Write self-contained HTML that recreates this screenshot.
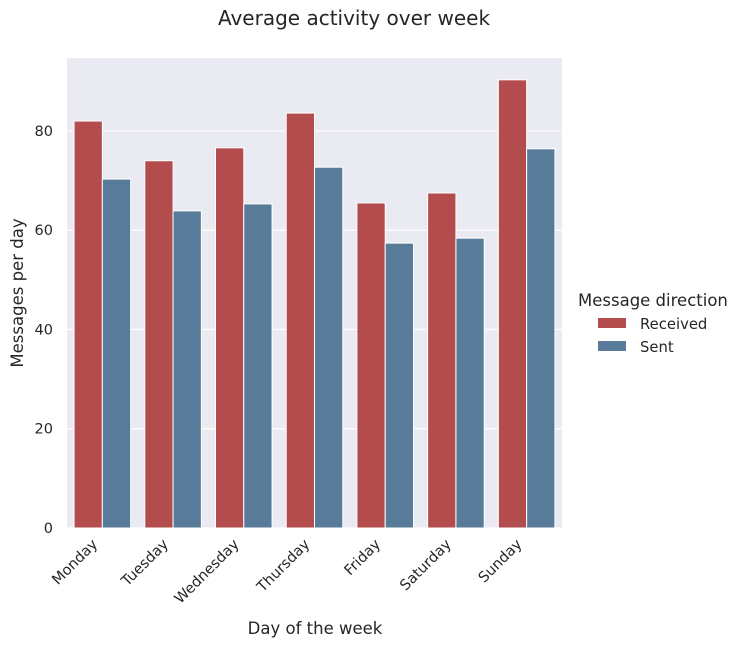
<!DOCTYPE html>
<html><head><meta charset="utf-8"><style>
body{margin:0;background:#fff;font-family:"DejaVu Sans","Liberation Sans",sans-serif;}
svg text{font-family:"DejaVu Sans","Liberation Sans",sans-serif;fill:#262626;}
</style></head><body>
<svg id="chart" width="741" height="648" xmlns="http://www.w3.org/2000/svg"></svg>
<script>
const categories=["Monday","Tuesday","Wednesday","Thursday","Friday","Saturday","Sunday"];
const received=[82.0,74.0,76.6,83.6,65.5,67.5,90.3];
const sent=[70.3,63.9,65.3,72.7,57.4,58.4,76.4];
const yTicks=[0,20,40,60,80];
const seriesNames=["Received","Sent"];
const colors=["#b34c4d","#587b99"];

const svg=document.getElementById('chart');
const NS="http://www.w3.org/2000/svg";
const L=67,R=562,T=58,B=528,yMax=94.7;
const y=v=>B-(v/yMax)*(B-T);
const gw=(R-L)/categories.length;
const x=i=>L+gw*i;
function el(tag,attrs,parent){const e=document.createElementNS(NS,tag);for(const k in attrs)e.setAttribute(k,attrs[k]);(parent||svg).appendChild(e);return e;}

const bg=el('rect',{x:L,y:T,width:R-L,height:B-T,fill:"#eaeaf2"});



yTicks.forEach(t=>{
  const g=el('line',{x1:L,x2:R,y1:y(t),y2:y(t),stroke:"#fff","stroke-width":1.2});
  
  
  const tx=el('text',{x:L-14,y:y(t)+5,"text-anchor":"end","font-size":14.5});
  tx.textContent=t;
  
  
});

const bw=gw*0.8/2;
[received,sent].forEach((series,si)=>{
  series.forEach((v,i)=>{
    const bx=x(i)+gw*0.1+si*bw;
    const r=el('rect',{x:bx,y:y(v),width:bw,height:B-y(v),fill:colors[si],stroke:"#fff","stroke-width":1});
    
    
  });
});

categories.forEach((c,i)=>{
  const cx=x(i)+gw/2-4, cy=B+17;
  const tx=el('text',{x:cx,y:cy,"text-anchor":"end","font-size":14.5,transform:`rotate(-45 ${cx} ${cy})`});
  tx.textContent=c;
  
  
});

const title=el('text',{x:354,y:25,"text-anchor":"middle","font-size":20});
title.textContent="Average activity over week";



const xt=el('text',{x:315,y:634,"text-anchor":"middle","font-size":16.5});
xt.textContent="Day of the week";



const yt=el('text',{x:23,y:293,"text-anchor":"middle","font-size":16.5,transform:"rotate(-90 23 293)"});
yt.textContent="Messages per day";



const lt=el('text',{x:578,y:306,"font-size":16.5});
lt.textContent="Message direction";


seriesNames.forEach((n,i)=>{
  const ly=318+i*23;
  const sw=el('rect',{x:598,y:ly,width:28,height:10,fill:colors[i]});
  
  
  const t=el('text',{x:640,y:ly+11,"font-size":14.8});
  t.textContent=n;
  
  
});
</script>
</body></html>
